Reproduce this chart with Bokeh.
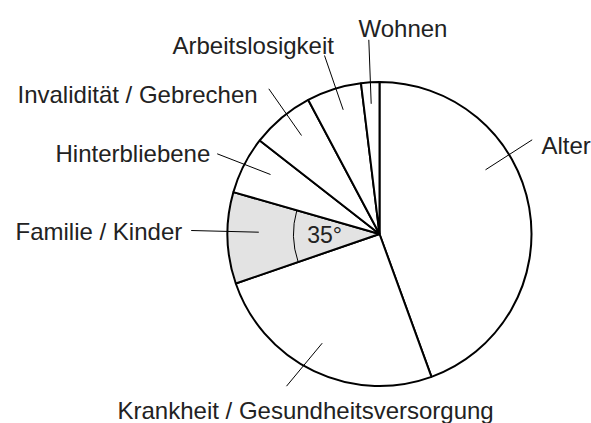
import math
from bokeh.plotting import figure
from bokeh.models import Range1d, ColumnDataSource
from bokeh.embed import file_html
from bokeh.resources import INLINE
from bokeh.core.properties import value

# ---- data (degrees of the full circle, clockwise from 12 o'clock) ----
categories = ["Alter", "Krankheit / Gesundheitsversorgung", "Familie / Kinder",
              "Hinterbliebene", "Invalidität / Gebrechen", "Arbeitslosigkeit", "Wohnen"]
degrees = [160, 91, 35, 22, 24, 21, 7]
highlight = "Familie / Kinder"
angle_label = "35°"

# ---- layout (page pixel coordinates) ----
W, H = 591, 423
CX, CY, R = 379, 233.5, 152
ARC_R = 86
label_left = [541, 117, 15, 55, 17, 172, 358]
label_base = [145, 410, 231, 153, 94, 45, 28]
lead_out = [(531.7, 139.3), (286, 385.7), (190.7, 230), (216.7, 153.3),
            (268.3, 88.3), (324, 55), (368.3, 39.3)]
lead_in = [(485, 169.3), (321.7, 342.7), (258.3, 231.7), (270, 174),
           (301, 135), (342.7, 109.3), (370.7, 103.3)]

def Y(py):
    return H - py

FONT = value("Liberation Sans")
TXT = "#222222"

p = figure(width=W, height=H, x_range=Range1d(0, W), y_range=Range1d(0, H),
           output_backend="svg", toolbar_location=None, min_border=0)
p.axis.visible = False
p.grid.visible = False
p.outline_line_color = None
p.background_fill_color = "white"

# wedges
starts, ends, fills = [], [], []
cum = 0
for c, d in zip(categories, degrees):
    starts.append(math.radians(90 - cum))
    ends.append(math.radians(90 - cum - d))
    fills.append("#e3e3e3" if c == highlight else "white")
    cum += d
src = ColumnDataSource(dict(x=[CX] * len(categories), y=[Y(CY)] * len(categories),
                            s=starts, e=ends, f=fills))
p.wedge(x="x", y="y", radius=R, start_angle="s", end_angle="e", direction="clock",
        fill_color="f", line_color="black", line_width=2, source=src)

# angle arc in the highlighted slice
hi = categories.index(highlight)
p.arc(x=CX, y=Y(CY), radius=ARC_R, start_angle=starts[hi], end_angle=ends[hi],
      direction="clock", line_color="black", line_width=1)
mid = (starts[hi] + ends[hi]) / 2
p.text(x=[CX + 55 * math.cos(mid)], y=[Y(CY) + 55 * math.sin(mid)], text=[angle_label],
       text_font=FONT, text_font_size="23px", text_color=TXT,
       text_align="center", text_baseline="middle")

# leader lines
p.segment(x0=[a[0] for a in lead_out], y0=[Y(a[1]) for a in lead_out],
          x1=[b[0] for b in lead_in], y1=[Y(b[1]) for b in lead_in],
          line_color="black", line_width=1)

# labels
p.text(x=label_left, y=[Y(v) for v in label_base], text=categories,
       text_font=FONT, text_font_size="24px", text_color=TXT,
       text_align="left", text_baseline="alphabetic")

open("out.html", "w").write(file_html(p, INLINE))
